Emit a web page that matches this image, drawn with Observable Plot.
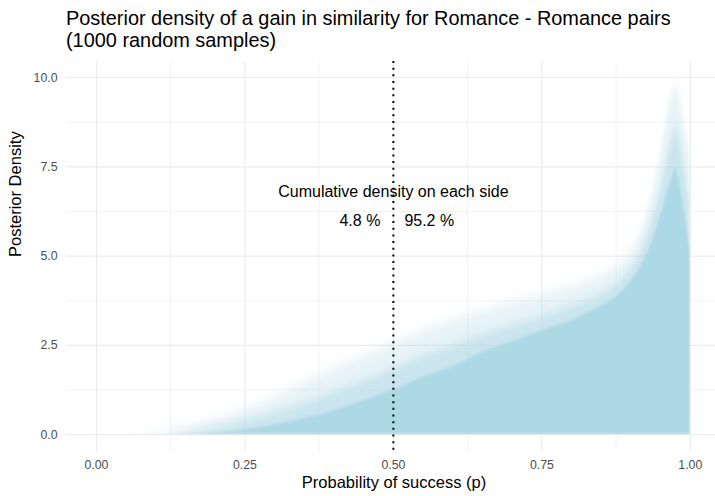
<!DOCTYPE html>
<html>
<head>
<meta charset="utf-8">
<script src="https://cdn.jsdelivr.net/npm/d3@7"></script>
<script src="https://cdn.jsdelivr.net/npm/@observablehq/plot@0.6"></script>
<style>
  html, body { margin: 0; padding: 0; background: #ffffff; }
  body { width: 715px; height: 496px; overflow: hidden; font-family: "Liberation Sans", Arial, Helvetica, sans-serif; }
  #title { box-sizing: border-box; height: 55px; padding: 7px 0 0 66px; font-size: 19.9px; line-height: 22px; color: #000; }
  #chart svg { display: block; }
</style>
</head>
<body>
<div id="title">Posterior density of a gain in similarity for Romance - Romance pairs<br>(1000 random samples)</div>
<div id="chart"></div>
<script>
// ---- data ----
const pGrid        = [0, 0.05, 0.1, 0.15, 0.2, 0.25, 0.3, 0.35, 0.4, 0.45, 0.5, 0.55, 0.6, 0.65, 0.7, 0.75, 0.8, 0.85, 0.875, 0.9, 0.92, 0.94, 0.95, 0.96, 0.97, 0.975, 0.98, 0.99, 1.0];
// density reached by nearly all sampled curves (solid core)
const coreDensity  = [0, 0, 0, 0.02, 0.06, 0.14, 0.27, 0.45, 0.67, 0.95, 1.25, 1.6, 1.9, 2.3, 2.6, 2.9, 3.2, 3.6, 3.85, 4.3, 4.8, 5.6, 6.1, 6.7, 7.2, 7.45, 7.2, 6.2, 5.1];
// density reached by about half of the sampled curves
const midDensity   = [0, 0, 0.02, 0.1, 0.22, 0.38, 0.6, 0.88, 1.18, 1.5, 1.85, 2.2, 2.5, 2.8, 3.05, 3.3, 3.6, 3.95, 4.2, 4.65, 5.2, 6.2, 6.8, 7.6, 8.3, 8.6, 8.4, 7.4, 6.4];
// density reached by only a few sampled curves (faint outer edge)
const outerDensity = [0, 0, 0.06, 0.2, 0.42, 0.7, 1.05, 1.45, 1.85, 2.2, 2.55, 2.9, 3.2, 3.45, 3.7, 3.9, 4.15, 4.45, 4.7, 5.1, 5.8, 7.0, 7.8, 8.8, 9.6, 9.8, 9.6, 8.6, 7.8];

const xTicks      = [0, 0.25, 0.5, 0.75, 1];
const xMinorTicks = [0.125, 0.375, 0.625, 0.875];
const yTicks      = [0, 2.5, 5, 7.5, 10];
const yMinorTicks = [1.25, 3.75, 6.25, 8.75];

const threshold   = 0.5;
const headerText  = ["Cumulative density on each side"];
const sideLabels  = ["4.8 %", "95.2 %"];
const headerY     = [6.8];
const sideY       = [6.0];
const xTitle      = "Probability of success (p)";
const yTitle      = "Posterior Density";

const rows = pGrid.map((p, i) => ({p, core: coreDensity[i], mid: midDensity[i], outer: outerDensity[i]}));

const fillColor = "#ADD8E6";
const gridColor = "#EBEBEB";

const chart = Plot.plot({
  width: 715,
  height: 441,
  marginTop: 6,
  marginBottom: 44,
  marginLeft: 66,
  marginRight: 0,
  style: {fontFamily: "'Liberation Sans', Arial, Helvetica, sans-serif", background: "#ffffff"},
  x: {domain: [-0.0504, 1.0424]},
  y: {domain: [-0.5, 10.45]},
  marks: [
    Plot.gridX(xMinorTicks, {stroke: gridColor, strokeOpacity: 1, strokeWidth: 0.6}),
    Plot.gridY(yMinorTicks, {stroke: gridColor, strokeOpacity: 1, strokeWidth: 0.6}),
    Plot.gridX(xTicks, {stroke: gridColor, strokeOpacity: 1, strokeWidth: 1.1}),
    Plot.gridY(yTicks, {stroke: gridColor, strokeOpacity: 1, strokeWidth: 1.1}),
    Plot.areaY(rows, {x: "p", y: "outer", fill: fillColor, fillOpacity: 0.3, curve: "monotone-x"}),
    Plot.areaY(rows, {x: "p", y: "mid", fill: fillColor, fillOpacity: 0.5, curve: "monotone-x"}),
    Plot.areaY(rows, {x: "p", y: "core", fill: fillColor, fillOpacity: 1, curve: "monotone-x"}),
    Plot.ruleX([threshold], {stroke: "#000", strokeWidth: 2, strokeDasharray: "2,4.67"}),
    Plot.text(headerText, {x: () => threshold, y: (d, i) => headerY[i], text: d => d, fontSize: 16, fill: "#000"}),
    Plot.text([sideLabels[0]], {x: () => threshold, y: () => sideY[0], text: d => d, textAnchor: "end", dx: -13, fontSize: 16, fill: "#000"}),
    Plot.text([sideLabels[1]], {x: () => threshold, y: () => sideY[0], text: d => d, textAnchor: "start", dx: 11, fontSize: 16, fill: "#000"}),
    Plot.axisX(xTicks, {tickSize: 0, tickPadding: 7.5, tickFormat: d3.format(".2f"), fontSize: 12.3, fill: "#4D4D4D", label: null}),
    Plot.axisY(yTicks, {tickSize: 0, tickPadding: 9, tickFormat: d3.format(".1f"), fontSize: 12.3, fill: "#4D4D4D", label: null}),
    Plot.text([xTitle], {frameAnchor: "bottom", dx: 3, dy: 35, text: d => d, fontSize: 16.5, fill: "#000"}),
    Plot.text([yTitle], {frameAnchor: "left", dx: -51, rotate: -90, text: d => d, fontSize: 16.5, fill: "#000"})
  ]
});

document.getElementById("chart").appendChild(chart);

// soften the edges of the sampled-curve envelope, clipped to the data region
const ns = "http://www.w3.org/2000/svg";
const xs = chart.scale("x"), ys = chart.scale("y");
const defs = document.createElementNS(ns, "defs");
const blurs = [["fuzzOuter", "2.5 6"], ["fuzzMid", "2 4"], ["fuzzCore", "0.8 1.5"]];
for (const [id, sd] of blurs) {
  const f = document.createElementNS(ns, "filter");
  f.setAttribute("id", id);
  f.setAttribute("x", "-20%"); f.setAttribute("y", "-20%");
  f.setAttribute("width", "140%"); f.setAttribute("height", "140%");
  const g = document.createElementNS(ns, "feGaussianBlur");
  g.setAttribute("stdDeviation", sd);
  f.appendChild(g);
  defs.appendChild(f);
}
const cp = document.createElementNS(ns, "clipPath");
cp.setAttribute("id", "dataClip");
const r = document.createElementNS(ns, "rect");
const x0 = xs.apply(0), x1 = xs.apply(1), yTop = ys.apply(10.45), yBase = ys.apply(0);
r.setAttribute("x", x0); r.setAttribute("y", yTop);
r.setAttribute("width", x1 - x0); r.setAttribute("height", yBase - yTop);
cp.appendChild(r);
defs.appendChild(cp);
chart.insertBefore(defs, chart.firstChild);

const areas = chart.querySelectorAll('g[aria-label="area"]');
const ids = ["fuzzOuter", "fuzzMid", "fuzzCore"];
areas.forEach((g, i) => {
  const wrap = document.createElementNS(ns, "g");
  wrap.setAttribute("clip-path", "url(#dataClip)");
  g.parentNode.insertBefore(wrap, g);
  wrap.appendChild(g);
  g.setAttribute("filter", `url(#${ids[i]})`);
});
</script>
</body>
</html>
